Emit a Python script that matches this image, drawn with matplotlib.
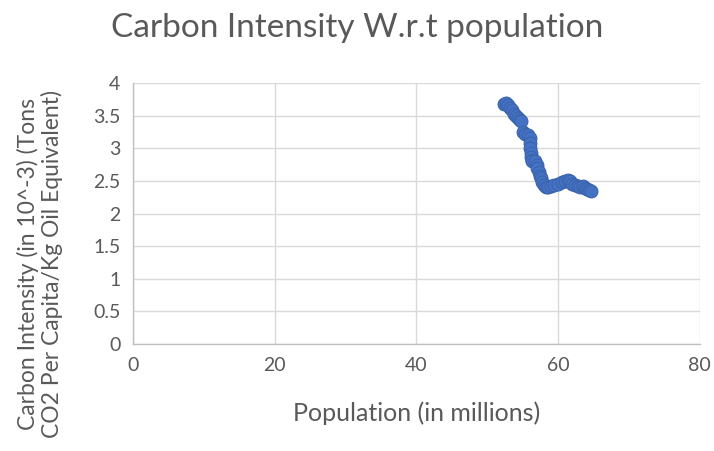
import matplotlib
matplotlib.use("Agg")
import matplotlib.pyplot as plt

# Population (millions) vs carbon intensity
population = [52.4, 52.7, 53.0, 53.2, 53.5, 53.8, 54.1, 54.4, 54.6, 54.8,
              55.0, 55.4, 55.8, 56.0, 56.1, 56.1, 56.2, 56.2, 56.3, 56.4,
              56.7, 57.0, 57.1, 57.3, 57.5, 57.6, 57.8, 58.0, 58.3, 58.6,
              59.0, 59.5, 60.0, 60.5, 61.0, 61.4, 61.7, 62.0, 62.4, 62.8,
              63.1, 63.5, 63.8, 64.1, 64.4, 64.6]
intensity = [3.68, 3.70, 3.66, 3.62, 3.58, 3.52, 3.50, 3.47, 3.44, 3.42,
             3.25, 3.22, 3.20, 3.15, 3.08, 3.00, 2.93, 2.87, 2.82, 2.80,
             2.80, 2.75, 2.70, 2.64, 2.58, 2.54, 2.48, 2.43, 2.40, 2.40,
             2.42, 2.44, 2.46, 2.48, 2.50, 2.52, 2.50, 2.45, 2.43, 2.42,
             2.41, 2.42, 2.39, 2.38, 2.36, 2.34]

x_ticks = [0, 20, 40, 60, 80]
y_ticks = [0, 0.5, 1, 1.5, 2, 2.5, 3, 3.5, 4]
y_tick_labels = ["0", "0.5", "1", "1.5", "2", "2.5", "3", "3.5", "4"]

plt.rcParams["font.family"] = ["Lato", "DejaVu Sans"]
text_color = "#595959"

fig = plt.figure(figsize=(7.14, 4.51), dpi=100)
ax = fig.add_axes([0.186, 0.237, 0.794, 0.579])

ax.scatter(population, intensity, s=85, color="#4472C4",
           edgecolors="#3B64AD", linewidths=0.8, zorder=3)

ax.set_xlim(0, 80)
ax.set_ylim(0, 4)
ax.set_xticks(x_ticks)
ax.set_yticks(y_ticks)
ax.set_yticklabels(y_tick_labels)
ax.grid(True, color="#D9D9D9", linewidth=1)
ax.set_axisbelow(True)

for side in ["top", "right"]:
    ax.spines[side].set_visible(False)
for side in ["left", "bottom"]:
    ax.spines[side].set_color("#BFBFBF")
    ax.spines[side].set_linewidth(1)

ax.tick_params(length=0, labelsize=14, colors=text_color, pad=9)

ax.set_xlabel("Population (in millions)", fontsize=18, color=text_color, labelpad=20)

fig.text(0.056, 0.415, "Carbon Intensity (in 10^-3) (Tons\nCO2 Per Capita/Kg Oil Equivalent)",
         fontsize=16.5, color=text_color, rotation=90, ha="center", va="center",
         multialignment="center", linespacing=1.15)

fig.text(0.5, 0.938, "Carbon Intensity W.r.t population", fontsize=24,
         color=text_color, ha="center", va="center")

fig.savefig("out.png", dpi=100)
